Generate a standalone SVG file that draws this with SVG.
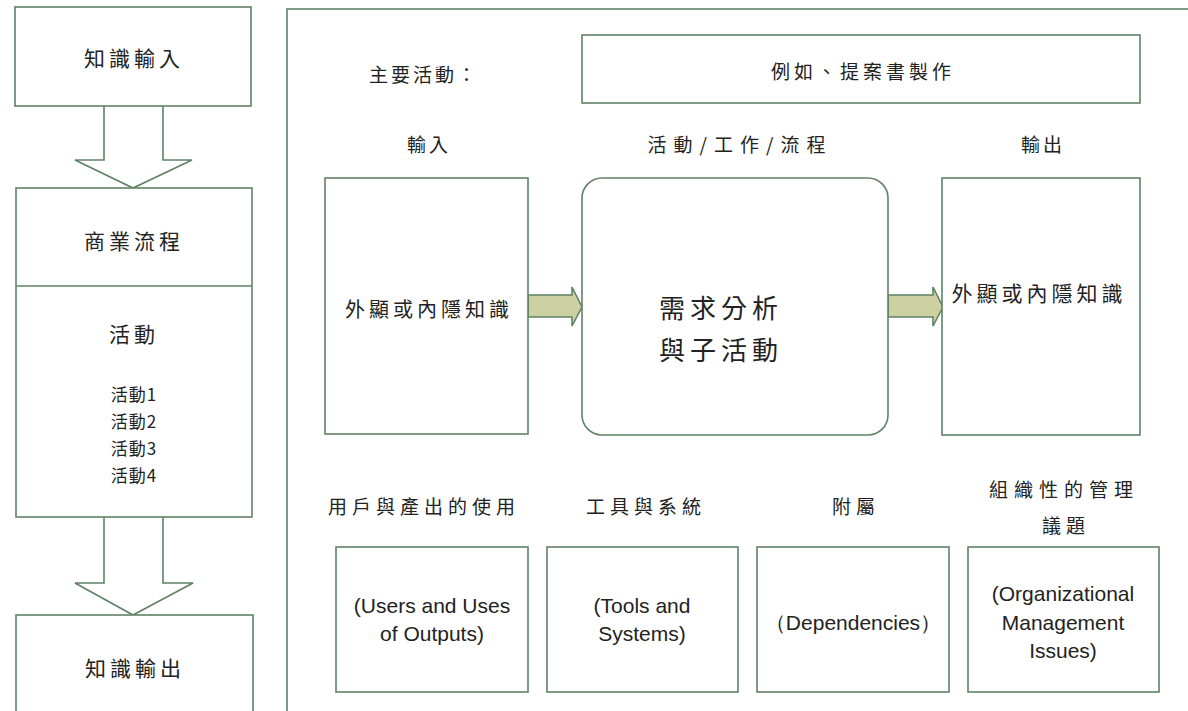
<svg xmlns="http://www.w3.org/2000/svg" width="1188" height="711" viewBox="0 0 1188 711">
<style>
.box{fill:#fff;stroke:#5f8266;stroke-width:1.6}
.blk{fill:none;stroke:#5f8266;stroke-width:1.6;stroke-linejoin:miter}
.garrow{fill:#cdd0a0;stroke:#5f8266;stroke-width:1.6;stroke-linejoin:miter}
.cjk{font-family:"Noto Sans CJK TC","Noto Sans CJK SC",sans-serif;fill:#222;text-anchor:middle;dominant-baseline:central;font-size:18px;letter-spacing:4px}
.en{font-family:"Liberation Sans",Arial,sans-serif;fill:#222;text-anchor:middle;dominant-baseline:central;font-size:21px}
</style>
<rect width="1188" height="711" fill="#fff"/>
<g id="frame"><rect class="box" x="287" y="9" width="1000" height="800"/></g>
<g id="connectors">
<path class="blk" d="M104,106 V160 H75 L133,188 L192,160 H163 V106"/>
<path class="blk" d="M104,517 V583 H75 L133,615 L193,583 H163 V517"/>
<path class="garrow" d="M528,295 H572 V287 L582,307 L572,326 V317 H528 Z"/>
<path class="garrow" d="M888,295 H933 V287 L943,307 L933,326 V317 H888 Z"/>
</g>
<g id="n-input"><rect class="box" x="15" y="7" width="236" height="99"/><text class="cjk" x="134" y="57" style="font-size:21px;letter-spacing:4px">知識輸入</text></g>
<g id="n-process"><rect class="box" x="16" y="188" width="236" height="329"/><line class="box" x1="16" y1="286" x2="252" y2="286"/>
<text class="cjk" x="134" y="240" style="font-size:21px;letter-spacing:4px">商業流程</text>
<text class="cjk" x="134" y="333" style="font-size:21px;letter-spacing:4px">活動</text>
<text class="cjk" x="134" y="393" style="font-size:17px;letter-spacing:1px">活動1</text>
<text class="cjk" x="134" y="420" style="font-size:17px;letter-spacing:1px">活動2</text>
<text class="cjk" x="134" y="447" style="font-size:17px;letter-spacing:1px">活動3</text>
<text class="cjk" x="134" y="474" style="font-size:17px;letter-spacing:1px">活動4</text>
</g>
<g id="n-output"><rect class="box" x="16" y="615" width="237" height="120"/><text class="cjk" x="135" y="667" style="font-size:21px;letter-spacing:4px">知識輸出</text></g>
<g id="n-main-label"><text class="cjk" x="424" y="73" style="font-size:19px;letter-spacing:3px">主要活動：</text></g>
<g id="n-main"><rect class="box" x="582" y="35" width="558" height="68"/><text class="cjk" x="863" y="70" style="font-size:19px;letter-spacing:4px">例如、提案書製作</text></g>
<g id="n-lbl-in"><text class="cjk" x="429" y="143" style="font-size:19px;letter-spacing:3px">輸入</text></g>
<g id="n-lbl-act"><text class="cjk" x="740" y="143" style="font-size:19px;letter-spacing:7px">活動/工作/流程</text></g>
<g id="n-lbl-out"><text class="cjk" x="1043" y="143" style="font-size:19px;letter-spacing:3px">輸出</text></g>
<g id="n-in-box"><rect class="box" x="325" y="178" width="203" height="256"/><text class="cjk" x="429" y="308" style="font-size:20px;letter-spacing:4px">外顯或內隱知識</text></g>
<g id="n-act-box"><rect class="box" x="582" y="178" width="306" height="257" rx="20" ry="20"/>
<text class="cjk" x="721" y="306" style="font-size:26px;letter-spacing:5px">需求分析</text>
<text class="cjk" x="721" y="348" style="font-size:26px;letter-spacing:5px">與子活動</text></g>
<g id="n-out-box"><rect class="box" x="942" y="178" width="198" height="257"/><text class="cjk" x="1039" y="292" style="font-size:21px;letter-spacing:4px">外顯或內隱知識</text></g>
<g id="n-users"><text class="cjk" x="424" y="505" style="font-size:19px;letter-spacing:5px">用戶與產出的使用</text>
<rect class="box" x="336" y="547" width="192" height="145"/>
<text class="en" x="432" y="605">(Users and Uses</text><text class="en" x="432" y="633">of Outputs)</text></g>
<g id="n-tools"><text class="cjk" x="646" y="505" style="font-size:19px;letter-spacing:5px">工具與系統</text>
<rect class="box" x="547" y="547" width="191" height="145"/>
<text class="en" x="642" y="605">(Tools and</text><text class="en" x="642" y="633">Systems)</text></g>
<g id="n-dep"><text class="cjk" x="856" y="505" style="font-size:19px;letter-spacing:5px">附屬</text>
<rect class="box" x="757" y="547" width="192" height="145"/>
<text class="en" x="853" y="622">（Dependencies）</text></g>
<g id="n-org"><text class="cjk" x="1064" y="488" style="font-size:19px;letter-spacing:6px">組織性的管理</text>
<text class="cjk" x="1066" y="524" style="font-size:19px;letter-spacing:5px">議題</text>
<rect class="box" x="968" y="547" width="191" height="145"/>
<text class="en" x="1063" y="593">(Organizational</text><text class="en" x="1063" y="622">Management</text><text class="en" x="1063" y="650">Issues)</text></g>
</svg>
